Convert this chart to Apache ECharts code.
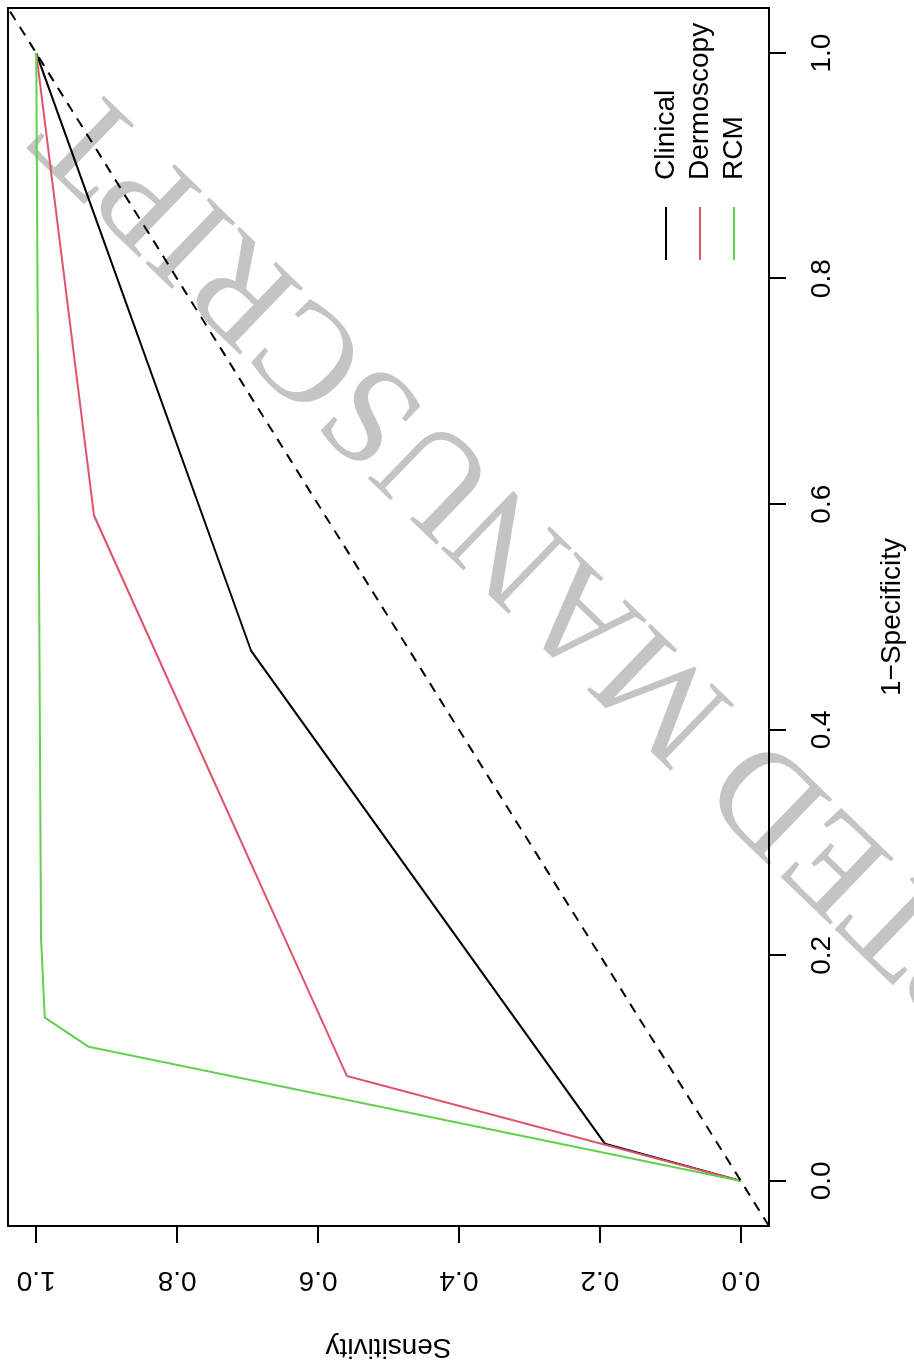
<!DOCTYPE html>
<html>
<head>
    <meta charset="utf-8">
    <title>ROC</title>
    <style>
        html, body { margin: 0; padding: 0; background: #fff; overflow: hidden; }
        #wrap { position: absolute; left: 0; top: 0; width: 914px; height: 1369px; overflow: hidden; }
        /* the figure is printed turned a quarter turn to the left */
        #roc {
            position: absolute; left: 0; top: 0; width: 1369px; height: 914px;
            transform-origin: 0 0;
            transform: translate(0, 1369px) rotate(-90deg);
        }
    </style>
</head>
<body>
    <div id="wrap"><div id="roc"></div></div>

    <script src="https://cdn.jsdelivr.net/npm/echarts@6/dist/echarts.min.js"></script>
    <script>
        const roc = echarts.init(document.getElementById('roc'));

        // 1-specificity / sensitivity pairs
        const fpr_clinical = [0, 0.033, 0.470, 1];
        const sens_clinical = [0, 0.193, 0.695, 1];
        const fpr_dermoscopy = [0, 0.093, 0.590, 1];
        const sens_dermoscopy = [0, 0.559, 0.918, 1];
        const fpr_rcm = [0, 0.119, 0.145, 0.216, 1];
        const sens_rcm = [0, 0.926, 0.988, 0.993, 1];
        const ref_line = [-0.04, 1.04];

        const tick_values = [0, 0.2, 0.4, 0.6, 0.8, 1.0];
        const legend_names = ['Clinical', 'Dermoscopy', 'RCM'];

        const font = 'Liberation Sans';
        const pairs = (xs, ys) => xs.map((x, i) => [x, ys[i]]);

        function curve(name, xs, ys, color) {
            return {
                name: name,
                type: 'line',
                data: pairs(xs, ys),
                symbol: 'none',
                showSymbol: false,
                lineStyle: { color: color, width: 2 },
                itemStyle: { color: color }
            };
        }

        const axisCommon = {
            type: 'value',
            min: -0.04,
            max: 1.04,
            nameLocation: 'middle',
            nameTextStyle: { fontSize: 28, color: '#000', fontFamily: font },
            axisLine: { show: false, onZero: false },
            splitLine: { show: false },
            axisTick: {
                show: true,
                length: 17,
                customValues: tick_values,
                lineStyle: { color: '#000', width: 2 }
            }
        };

        const option = {
            animation: false,
            backgroundColor: '#fff',
            textStyle: { fontFamily: font },
            grid: {
                left: 139, right: 8, top: 8, bottom: 145,
                show: true,
                borderColor: '#000',
                borderWidth: 2,
                backgroundColor: 'transparent'
            },
            xAxis: Object.assign({}, axisCommon, {
                name: '1\u2212Specificity',
                nameGap: 109,
                axisLabel: {
                    customValues: tick_values,
                    formatter: v => v.toFixed(1),
                    fontSize: 28,
                    color: '#000',
                    margin: 39
                }
            }),
            yAxis: Object.assign({}, axisCommon, {
                name: 'Sensitivity',
                nameGap: 107,
                nameRotate: 90,
                axisLabel: {
                    customValues: tick_values,
                    formatter: v => v.toFixed(1),
                    fontSize: 28,
                    color: '#000',
                    rotate: 90,
                    margin: 40
                }
            }),
            legend: {
                data: legend_names,
                orient: 'vertical',
                left: 1109,
                top: 652,
                padding: 0,
                icon: 'rect',
                itemWidth: 53,
                itemHeight: 2,
                itemGap: 6,
                textStyle: { fontSize: 28, color: '#000', fontFamily: font, padding: [0, 0, 0, 22] }
            },
            graphic: {
                elements: [{
                    type: 'text',
                    x: 685,
                    y: 660,
                    rotation: 46 * Math.PI / 180,
                    z: -1,
                    silent: true,
                    style: {
                        text: 'ACCEPTED MANUSCRIPT',
                        font: '140px "Liberation Serif"',
                        fill: '#c4c4c4',
                        align: 'center',
                        verticalAlign: 'middle'
                    }
                }]
            },
            series: [
                curve('Clinical', fpr_clinical, sens_clinical, '#000000'),
                curve('Dermoscopy', fpr_dermoscopy, sens_dermoscopy, '#DF536B'),
                curve('RCM', fpr_rcm, sens_rcm, '#61D04F'),
                {
                    name: 'chance',
                    type: 'line',
                    data: pairs(ref_line, ref_line),
                    symbol: 'none',
                    silent: true,
                    lineStyle: { color: '#000', width: 2, type: [10, 8] }
                }
            ]
        };

        roc.setOption(option);
    </script>
</body>
</html>
